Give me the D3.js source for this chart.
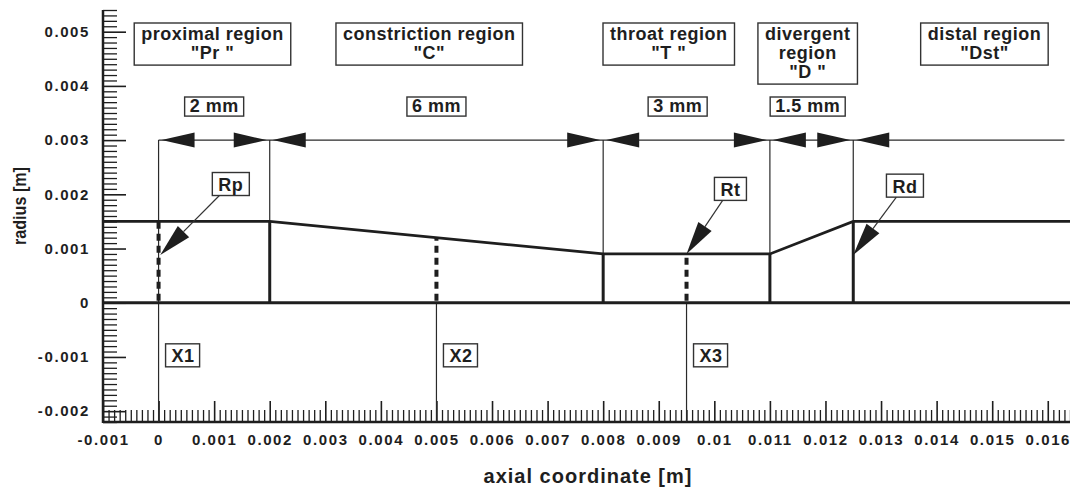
<!DOCTYPE html>
<html><head><meta charset="utf-8">
<script src="https://cdn.jsdelivr.net/npm/d3@7"></script>
<style>
body{margin:0;background:#fff}
text{font-family:"Liberation Sans",Arial,Helvetica,sans-serif;font-weight:bold;fill:#1e1e1e}
</style>
</head><body><svg id="c" width="1070" height="488"></svg>
<script>
// ---------- data ----------
const profileX = [-0.001, 0.002, 0.008, 0.011, 0.0125, 0.0165];
const profileR = [0.0015, 0.0015, 0.0009, 0.0009, 0.0015, 0.0015];
const boundaryX = [0.002, 0.008, 0.011, 0.0125];
const boundaryR = [0.0015, 0.0009, 0.0009, 0.0015];
const regionNames = [["proximal region", "\"Pr \""], ["constriction region", "\"C\""], ["throat region", "\"T \""], ["divergent", "region", "\"D \""], ["distal region", "\"Dst\""]];
const regionCenterX = [0.00097, 0.00487, 0.00918, 0.01168, 0.01486];
const dimStart = [0, 0.002, 0.008, 0.011, 0.0125];
const dimEnd = [0.002, 0.008, 0.011, 0.0125, 0.0163];
const dimLabels = ["2 mm", "6 mm", "3 mm", "1.5 mm", ""];
const dimLabelX = [0.001, 0.005, 0.00934, 0.01168, 0];
const dimR = 0.003;
const extBottomR = [-0.0022, 0.0015, 0.0009, 0.0009, 0.0015];
const stationNames = ["X1", "X2", "X3"];
const stationX = [0, 0.005, 0.0095];
const stationR = [0.0015, 0.0012, 0.0009];
const stationLabelR = -0.00097;
const radiusNames = ["Rp", "Rt", "Rd"];
const radiusTipX = [0.00003, 0.0095, 0.0125];
const radiusTipR = [0.00088, 0.0009, 0.00088];
const radiusLabelX = [0.0013, 0.01029, 0.01343];
const radiusLabelR = [0.00219, 0.0021, 0.00216];
const xTickValues = [-0.001, 0, 0.001, 0.002, 0.003, 0.004, 0.005, 0.006, 0.007, 0.008, 0.009, 0.01, 0.011, 0.012, 0.013, 0.014, 0.015, 0.016];
const xTickLabels = ["-0.001", "0", "0.001", "0.002", "0.003", "0.004", "0.005", "0.006", "0.007", "0.008", "0.009", "0.01", "0.011", "0.012", "0.013", "0.014", "0.015", "0.016"];
const yTickValues = [-0.002, -0.001, 0, 0.001, 0.002, 0.003, 0.004, 0.005];
const yTickLabels = ["-0.002", "-0.001", "0", "0.001", "0.002", "0.003", "0.004", "0.005"];
const xTitle = "axial coordinate [m]";
const yTitle = "radius [m]";

(function () {
// ---------- layout ----------
const mL = 103, mR = 1070, mT = 10, mB = 422;
const svg = d3.select("#c");
const x = d3.scaleLinear().domain([-0.001, 0.0164]).range([mL, mR]);
const y = d3.scaleLinear().domain([-0.0022, 0.0054]).range([mB, mT]);
const ink = "#1e1e1e";

// minor ticks
const xMinor = d3.range(-10, 165).map(i => i / 10000).filter(v => Math.abs(Math.round(v * 1000) - v * 1000) > 1e-6);
const yMinor = d3.range(-22, 55).map(i => i / 10000).filter(v => Math.abs(Math.round(v * 1000) - v * 1000) > 1e-6);

const gx = svg.append("g").attr("transform", `translate(0,${mB})`);
gx.call(d3.axisBottom(x).tickValues(xMinor).tickFormat("").tickSizeInner(-12).tickSizeOuter(0));
gx.selectAll(".tick line").attr("stroke", ink).attr("stroke-width", 1.3);
const gx2 = svg.append("g").attr("transform", `translate(0,${mB})`);
gx2.call(d3.axisBottom(x).tickValues(xTickValues).tickFormat((d, i) => xTickLabels[i]).tickSizeInner(-21).tickSizeOuter(0).tickPadding(12));
gx2.selectAll(".tick line").attr("stroke", ink).attr("stroke-width", 1.6);
gx2.selectAll(".tick text").attr("font-size", 15).attr("letter-spacing", 1.6).attr("fill", ink).attr("dy", "0.71em");
svg.selectAll(".domain").remove();

const gy = svg.append("g").attr("transform", `translate(${mL},0)`);
gy.call(d3.axisLeft(y).tickValues(yMinor).tickFormat("").tickSizeInner(-14).tickSizeOuter(0));
gy.selectAll(".tick line").attr("stroke", ink).attr("stroke-width", 1.3);
const gy2 = svg.append("g").attr("transform", `translate(${mL},0)`);
gy2.call(d3.axisLeft(y).tickValues(yTickValues).tickFormat((d, i) => yTickLabels[i]).tickSizeInner(-23).tickSizeOuter(0).tickPadding(13));
gy2.selectAll(".tick text").attr("font-size", 15).attr("letter-spacing", 1.6).attr("fill", ink);
gy2.selectAll(".tick line").attr("stroke", ink).attr("stroke-width", 1.6);
svg.selectAll(".domain").remove();

// axis lines
svg.append("line").attr("x1", mL).attr("x2", mR).attr("y1", mB).attr("y2", mB).attr("stroke", ink).attr("stroke-width", 2.5);
svg.append("line").attr("x1", mL).attr("x2", mL).attr("y1", mT).attr("y2", mB + 1).attr("stroke", ink).attr("stroke-width", 2.5);

// thin extension lines
const thin = svg.append("g").attr("stroke", "#2a2a2a").attr("stroke-width", 1.2);
dimStart.forEach((d, i) => {
  thin.append("line").attr("x1", x(d)).attr("x2", x(d)).attr("y1", y(dimR)).attr("y2", y(extBottomR[i]));
});
stationX.forEach((d, i) => {
  if (i === 0) return;
  thin.append("line").attr("x1", x(d)).attr("x2", x(d)).attr("y1", y(0)).attr("y2", y(-0.0022));
});
thin.append("line").attr("x1", x(dimStart[0])).attr("x2", x(dimEnd[dimEnd.length - 1])).attr("y1", y(dimR)).attr("y2", y(dimR));

// dimension arrows
function dimArrow(tipX, dir) {
  const yy = y(dimR), L = 33, h = 7.5;
  svg.append("path").attr("fill", ink)
    .attr("d", `M${tipX},${yy}L${tipX + dir * L},${yy - h}L${tipX + dir * L},${yy + h}Z`);
}
dimStart.forEach((d, i) => {
  dimArrow(x(d) + 3, 1);
  if (dimLabels[i]) dimArrow(x(dimEnd[i]) - 3, -1);
});

// zero line
svg.append("line").attr("x1", mL).attr("x2", mR).attr("y1", y(0)).attr("y2", y(0)).attr("stroke", ink).attr("stroke-width", 2.8);

// wall profile
svg.append("path").datum(profileX.map((d, i) => [d, profileR[i]]))
  .attr("fill", "none").attr("stroke", ink).attr("stroke-width", 2.8)
  .attr("d", d3.line().x(d => x(d[0])).y(d => y(d[1])));
boundaryX.forEach((d, i) => {
  svg.append("line").attr("x1", x(d)).attr("x2", x(d)).attr("y1", y(0)).attr("y2", y(boundaryR[i]))
    .attr("stroke", ink).attr("stroke-width", 3);
});

// dashed station lines
stationX.forEach((d, i) => {
  svg.append("line").attr("x1", x(d)).attr("x2", x(d)).attr("y1", y(0) - 2).attr("y2", y(stationR[i]))
    .attr("stroke", ink).attr("stroke-width", 4).attr("stroke-dasharray", "7,5");
});

// boxed label helper
function boxLabel(lines, cx, topY, fs, lh, padX, padY, ls) {
  const g = svg.append("g");
  const t = g.append("text").attr("text-anchor", "middle").attr("font-size", fs).attr("letter-spacing", ls);
  lines.forEach((s, k) => t.append("tspan").attr("x", cx).attr("y", topY + padY + fs * 0.78 + k * lh).text(s));
  const bb = t.node().getBBox();
  const hgt = padY * 2 + fs * 0.95 + (lines.length - 1) * lh;
  g.insert("rect", "text").attr("x", bb.x - padX).attr("y", topY).attr("width", bb.width + 2 * padX).attr("height", hgt)
    .attr("fill", "#fff").attr("stroke", "#333").attr("stroke-width", 1.4);
}

regionNames.forEach((lines, i) => boxLabel(lines, x(regionCenterX[i]), 23, 18, 19, 7, 3, 0.5));
dimLabels.forEach((s, i) => { if (s) boxLabel([s], x(dimLabelX[i]), 97, 18, 19, 5, 1, 0.5); });

stationNames.forEach((s, i) => {
  const g = svg.append("g");
  const bx = x(stationX[i]) + 7;
  const t = g.append("text").attr("font-size", 18).attr("letter-spacing", 0.5).attr("x", bx + 6).attr("y", y(stationLabelR) + 7).text(s);
  const bb = t.node().getBBox();
  g.insert("rect", "text").attr("x", bx).attr("y", y(stationLabelR) - 11.5).attr("width", bb.width + 11).attr("height", 23)
    .attr("fill", "#fff").attr("stroke", "#333").attr("stroke-width", 1.4);
});

radiusNames.forEach((s, i) => {
  const g = svg.append("g");
  const cx = x(radiusLabelX[i]), cy = y(radiusLabelR[i]);
  const tx = x(radiusTipX[i]), ty = y(radiusTipR[i]);
  const t = g.append("text").attr("font-size", 18).attr("letter-spacing", 0.5).attr("text-anchor", "middle").attr("x", cx).attr("y", cy + 7).text(s);
  const bb = t.node().getBBox();
  const bh = 23, bw = bb.width + 12;
  const by = cy - bh / 2;
  g.insert("rect", "text").attr("x", cx - bw / 2).attr("y", by).attr("width", bw).attr("height", bh)
    .attr("fill", "#fff").attr("stroke", "#333").attr("stroke-width", 1.4);
  const sy = by + bh;
  const sx = cx + (tx - cx) * (sy - cy) / (ty - cy);
  const dx = sx - tx, dy = sy - ty, len = Math.hypot(dx, dy);
  const ux = dx / len, uy = dy / len, L = 33, hw = 8;
  const bxp = tx + ux * L, byp = ty + uy * L;
  g.append("line").attr("x1", sx).attr("y1", sy).attr("x2", bxp).attr("y2", byp).attr("stroke", "#333").attr("stroke-width", 1.2);
  g.append("path").attr("fill", ink)
    .attr("d", `M${tx},${ty}L${bxp - uy * hw},${byp + ux * hw}L${bxp + uy * hw},${byp - ux * hw}Z`);
});

svg.append("text").attr("x", 588).attr("y", 483).attr("text-anchor", "middle").attr("font-size", 20).attr("letter-spacing", 1).text(xTitle);
svg.append("text").attr("transform", "translate(26,206) rotate(-90)").attr("text-anchor", "middle").attr("font-size", 19).attr("textLength", 78).attr("lengthAdjust", "spacingAndGlyphs").text(yTitle);
})();
</script>
</body></html>
